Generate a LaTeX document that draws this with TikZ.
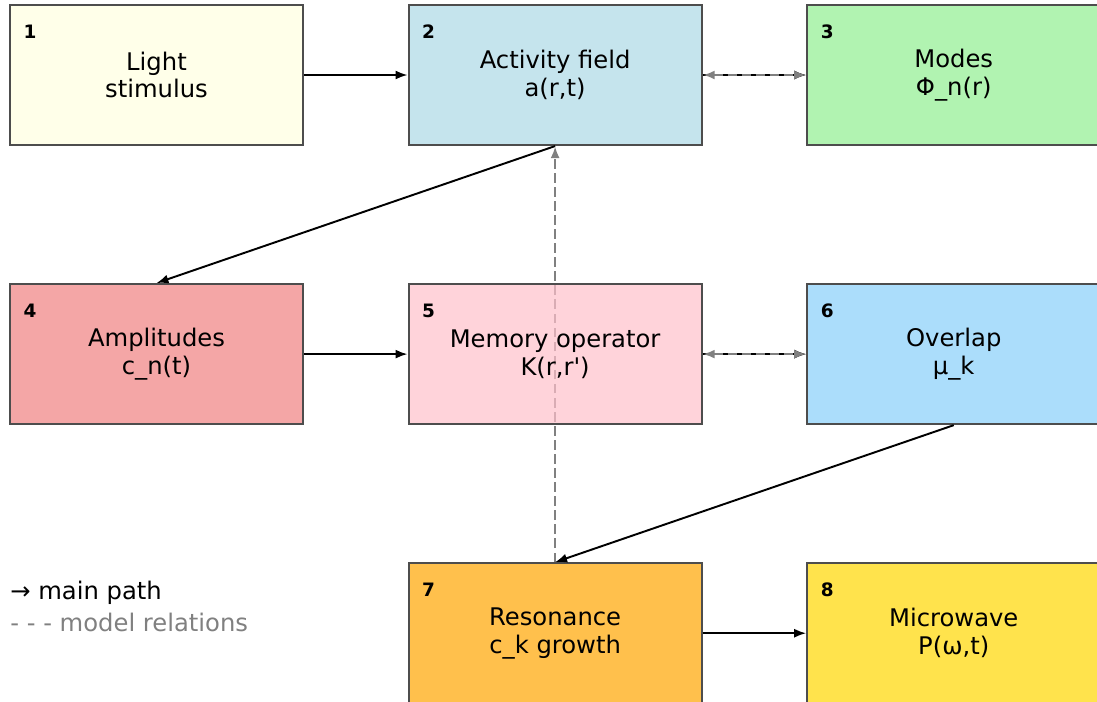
\documentclass[tikz,border=0pt]{standalone}
\usepackage{fontspec}
\setmainfont{DejaVu Sans}
\usetikzlibrary{positioning,arrows.meta,calc,backgrounds}
\definecolor{StimYellow}{HTML}{FFFFE0}
\definecolor{FieldBlue}{HTML}{ADD8E6}
\definecolor{ModeGreen}{HTML}{90EE90}
\definecolor{AmpCoral}{HTML}{F08080}
\definecolor{MemPink}{HTML}{FFC0CB}
\definecolor{OverlapSky}{HTML}{87CEFA}
\definecolor{ResOrange}{HTML}{FFA500}
\definecolor{WaveGold}{HTML}{FFD700}
\definecolor{EdgeGray}{HTML}{4D4D4D}
\definecolor{RelGray}{HTML}{808080}

\begin{document}
\begin{tikzpicture}[node distance=2.74cm and 2.07cm, every node/.style={font=\fontsize{13.8}{15.8}\selectfont},
  stage/.style={draw=EdgeGray,line width=1.2pt,fill opacity=0.7,text opacity=1,minimum width=5.86cm,minimum height=2.8cm,align=center,inner sep=0pt},
  num/.style={font=\fontsize{10.5}{12}\selectfont\bfseries},
  main/.style={-{Latex[length=2.4mm,width=1.8mm]},line width=1.1pt},
  rel/.style={{Latex[length=2.4mm,width=1.8mm]}-{Latex[length=2.4mm,width=1.8mm]},RelGray,line width=1.4pt,dash pattern=on 5.5pt off 2.5pt}]
\useasboundingbox (0,0) rectangle (21.94,-14.02);
\clip (0,0) rectangle (21.94,-14.02);
% stages
\node[stage,fill=StimYellow] (light) at (3.13,-1.5) {Light\\stimulus};
\node[stage,fill=FieldBlue,right=of light] (field) {Activity field\\a(r,t)};
\node[stage,fill=ModeGreen,right=of field] (modes) {Modes\\Φ\_n(r)};
\node[stage,fill=AmpCoral,below=of light] (amp) {Amplitudes\\c\_n(t)};
\node[stage,fill=MemPink,right=of amp] (mem) {Memory operator\\K(r,r\textquotesingle)};
\node[stage,fill=OverlapSky,right=of mem] (overlap) {Overlap\\μ\_k};
\node[stage,fill=ResOrange,below=of mem] (res) {Resonance\\c\_k growth};
\node[stage,fill=WaveGold,right=of res] (wave) {Microwave\\P(ω,t)};
% numbers
\node[num] (n1) at ($(light.north west)+(0.42,-0.56)$) {1};
\node[num] (n2) at ($(field.north west)+(0.42,-0.56)$) {2};
\node[num] (n3) at ($(modes.north west)+(0.42,-0.56)$) {3};
\node[num] (n4) at ($(amp.north west)+(0.42,-0.56)$) {4};
\node[num] (n5) at ($(mem.north west)+(0.42,-0.56)$) {5};
\node[num] (n6) at ($(overlap.north west)+(0.42,-0.56)$) {6};
\node[num] (n7) at ($(res.north west)+(0.42,-0.56)$) {7};
\node[num] (n8) at ($(wave.north west)+(0.42,-0.56)$) {8};
% main path
\draw[main] (light) -- (field);
\draw[main] (field.south) -- (amp.north);
\draw[main] (amp) -- (mem);
\draw[main] (overlap.south) -- (res.north);
\draw[main] (res) -- (wave);
% model relations
\draw[main,line width=0.8pt] (field) -- (modes);
\draw[rel] (field) -- (modes);
\draw[main,line width=0.8pt] (mem) -- (overlap);
\draw[rel] (mem) -- (overlap);
\begin{scope}[on background layer]
\draw[rel,arrows={-Latex[length=2.4mm,width=1.8mm]}] (res.north) -- (field.south);
\end{scope}
% legend
\node[anchor=west,inner sep=0pt] (lgmain) at (0.2,-11.86) {→ main path};
\node[anchor=west,inner sep=0pt,text=RelGray] (lgrel) at (0.2,-12.44) {- - - model relations};
\end{tikzpicture}
\end{document}
